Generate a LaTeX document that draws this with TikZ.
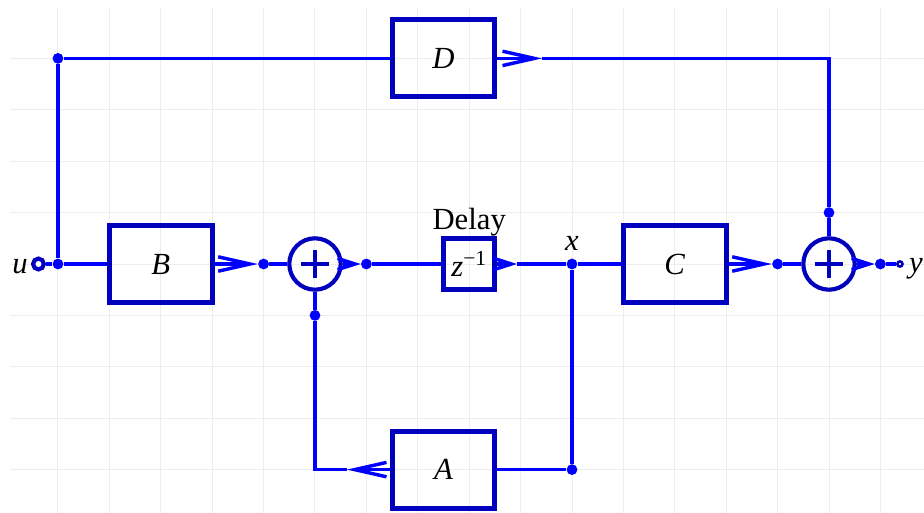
\documentclass[tikz,border=0pt]{standalone}
\usepackage{fontspec}
\setmainfont{Liberation Serif}
\usetikzlibrary{arrows.meta}
\definecolor{boxblue}{RGB}{0, 0, 190}
\definecolor{gridgray}{RGB}{237, 237, 237}

\begin{document}
\begin{tikzpicture}[
          font=\fontsize{17}{20}\selectfont,
          blockbox/.style={draw=boxblue,  line width=2.8pt,  rectangle,  inner sep=0pt,  minimum width=2cm,  minimum height=1.5cm},
          sumnode/.style={draw=boxblue,  line width=2.3pt,  circle,  inner sep=0pt,  minimum size=1cm,
            path picture={\draw[boxblue,  line width=2.4pt]
              ([xshift=-0.28cm]path picture bounding box.center) -- ([xshift=0.28cm]path picture bounding box.center)
              ([yshift=-0.28cm]path picture bounding box.center) -- ([yshift=0.28cm]path picture bounding box.center);}},
          wire/.style={blue,  line width=1.9pt},
          bigarrow/.style={-{Straight Barb[length=0.62cm,  width=0.28cm]}},
          smallarrow/.style={-{Straight Barb[length=0.34cm,  width=0.22cm]}},
          jdot/.style={circle,  fill=blue,  inner sep=0pt,  minimum size=0.21cm},
          port/.style={circle,  draw=boxblue,  fill=white,  line width=2.3pt,  inner sep=0pt,  minimum size=0.21cm}
      ]
          \useasboundingbox (-1.128, -4.844) rectangle (16.848, 5.136);
          \draw[gridgray,  line width=0.55pt] (-0.93, -4.85) grid (16.85, 4.99);

          \node[port] (u) at (-0.38, 0) {};
          \node[anchor=base east,  inner sep=0pt] (ulbl) at (-0.58, -0.19) {\textit{u}};
          \node[jdot] (j0) at (0, 0) {};
          \node[jdot] (jD) at (0, 4) {};
          \node[blockbox] (boxB) at (2, 0) {\textit{B}};
          \node[jdot] (d1) at (4, 0) {};
          \node[sumnode] (sum1) at (5, 0) {};
          \node[jdot] (dS1) at (5, -1) {};
          \node[jdot] (d2) at (6, 0) {};
          \node[blockbox,  minimum width=1cm,  minimum height=1cm] (delay) at (8, 0) {\textit{z}\textsuperscript{−1}};
          \node[anchor=base,  inner sep=0pt] (delaylbl) at (8, 0.68) {Delay};
          \coordinate (tDelay) at (8.93, 0);
          \node[jdot] (xd) at (10, 0) {};
          \node[anchor=base,  inner sep=0pt] (xlbl) at (10, 0.27) {\textit{x}};
          \node[blockbox] (boxC) at (12, 0) {\textit{C}};
          \node[jdot] (d3) at (14, 0) {};
          \node[sumnode] (sum2) at (15, 0) {};
          \node[jdot] (dS2) at (15, 1) {};
          \node[jdot] (d4) at (16, 0) {};
          \node[port,  line width=1.4pt,  minimum size=0.1cm] (y) at (16.38, 0) {};
          \node[anchor=base west,  inner sep=0pt] (ylbl) at (16.55, -0.17) {\textit{y}};
          \node[blockbox] (boxD) at (7.5, 4) {\textit{D}};
          \coordinate (tD) at (9.42, 4);
          \node[jdot] (dA) at (10, -4) {};
          \node[blockbox] (boxA) at (7.5, -4) {\textit{A}};
          \coordinate (tA) at (5.62, -4);

          \draw[wire] (u) -- (j0);
          \draw[wire] (j0) -- (boxB);
          \draw[wire] (j0) -- (jD);
          \draw[wire] (jD) -- (boxD);
          \draw[wire,  bigarrow] (boxB) -- (d1);
          \draw[wire] (d1) -- (sum1);
          \draw[wire,  smallarrow] (sum1) -- (d2);
          \draw[wire] (d2) -- (delay);
          \draw[wire,  smallarrow] (delay) -- (tDelay);
          \draw[wire] (tDelay) -- (xd);
          \draw[wire] (xd) -- (boxC);
          \draw[wire] (xd) -- (dA);
          \draw[wire] (dA) -- (boxA);
          \draw[wire,  bigarrow] (boxA) -- (tA);
          \draw[wire] (tA) -| (dS1);
          \draw[wire] (dS1) -- (sum1);
          \draw[wire,  bigarrow] (boxC) -- (d3);
          \draw[wire] (d3) -- (sum2);
          \draw[wire,  bigarrow] (boxD) -- (tD);
          \draw[wire] (tD) -| (dS2);
          \draw[wire] (dS2) -- (sum2);
          \draw[wire,  smallarrow] (sum2) -- (d4);
          \draw[wire] (d4) -- (y);
      \end{tikzpicture}
\end{document}
